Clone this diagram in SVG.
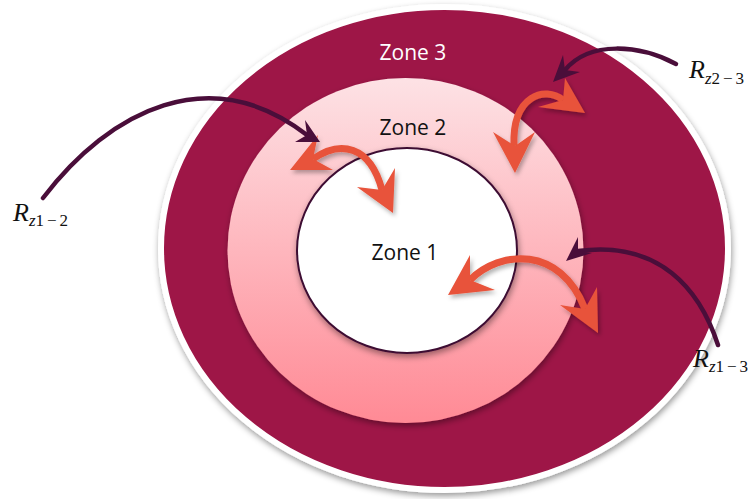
<svg xmlns="http://www.w3.org/2000/svg" width="755" height="499" viewBox="0 0 755 499">
<defs>
<linearGradient id="g2" x1="0" y1="0" x2="0" y2="1">
<stop offset="0" stop-color="#fde2e5"/>
<stop offset="1" stop-color="#ff8a95"/>
</linearGradient>
<filter id="sh" x="-10%" y="-10%" width="120%" height="125%">
<feDropShadow dx="1" dy="3" stdDeviation="3" flood-color="#000" flood-opacity="0.4"/>
</filter>
<filter id="sh2" x="-20%" y="-20%" width="140%" height="150%">
<feDropShadow dx="2" dy="3" stdDeviation="2" flood-color="#000" flood-opacity="0.3"/>
</filter>
<style>
.zl{font-family:"Open Sans","Liberation Sans",sans-serif;font-size:21px;text-anchor:middle}
.r{font-family:"Liberation Serif","DejaVu Serif",serif;font-style:italic;font-size:26px;fill:#111}
.sub{font-size:17px}
.up{font-style:normal}
.dk{fill:none;stroke:#4a0e3a;stroke-width:4.5;stroke-linecap:round}
.dkh{fill:#4a0e3a}
.or{fill:none;stroke:#e8533a;stroke-width:7}
.orh{fill:#e8533a}
</style>
</defs>
<g id="zone3">
<ellipse cx="444.5" cy="248.5" rx="283.5" ry="241.5" fill="#9e1646" stroke="#fff" stroke-width="6" filter="url(#sh)"/>
<text class="zl" x="413" y="60" fill="#fff">Zone 3</text>
</g>
<g id="zone2">
<ellipse cx="405.5" cy="250.5" rx="178" ry="172.5" fill="url(#g2)" filter="url(#sh)"/>
<text class="zl" x="413" y="135" fill="#111">Zone 2</text>
</g>
<g id="zone1">
<ellipse cx="407" cy="250.5" rx="110" ry="102.5" fill="#fff" stroke="#3d0c33" stroke-width="2" filter="url(#sh)"/>
<text class="zl" x="405" y="260" fill="#111">Zone 1</text>
</g>
<g id="labels">
<text class="r" x="13" y="221">R<tspan class="sub" dy="5">z<tspan class="up">1<tspan dx="3">−</tspan><tspan dx="3">2</tspan></tspan></tspan></text>
<text class="r" x="689" y="78">R<tspan class="sub" dy="6">z<tspan class="up">2<tspan dx="3">−</tspan><tspan dx="3">3</tspan></tspan></tspan></text>
<text class="r" x="693" y="367">R<tspan class="sub" dy="5">z<tspan class="up">1<tspan dx="3">−</tspan><tspan dx="3">3</tspan></tspan></tspan></text>
</g>
<g id="connectors">
<g filter="url(#sh2)">
<path class="or" d="M313,159 C340,140 370,145 382,190"/>
<polygon class="orh" points="290,170 318,135 313,159 333,170"/>
<polygon class="orh" points="393,213 357,187 382,190 395,168"/>
<path class="or" d="M563,100 C545,86 512,95 514,146"/>
<polygon class="orh" points="585,113 565,78 563,100 538,107"/>
<polygon class="orh" points="515,173 493,132 515,146 535,132"/>
<path class="or" d="M470,280 C500,250 560,245 585,309"/>
<polygon class="orh" points="448,295 470,255 470,280 495,290"/>
<polygon class="orh" points="598,333 560,305 585,309 597,287"/>
</g>
<path class="dk" d="M43,198 C110,110 210,60 307,135"/>
<polygon class="dkh" points="320,142 305,120 307,135 295,142"/>
<path class="dk" d="M676,64 C640,45 590,40 565,70"/>
<polygon class="dkh" points="553,82 563,55 565,70 580,72"/>
<path class="dk" d="M718,345 C700,290 660,240 578,251"/>
<polygon class="dkh" points="566,261 578,237 578,251 592,253"/>
</g>
</svg>
